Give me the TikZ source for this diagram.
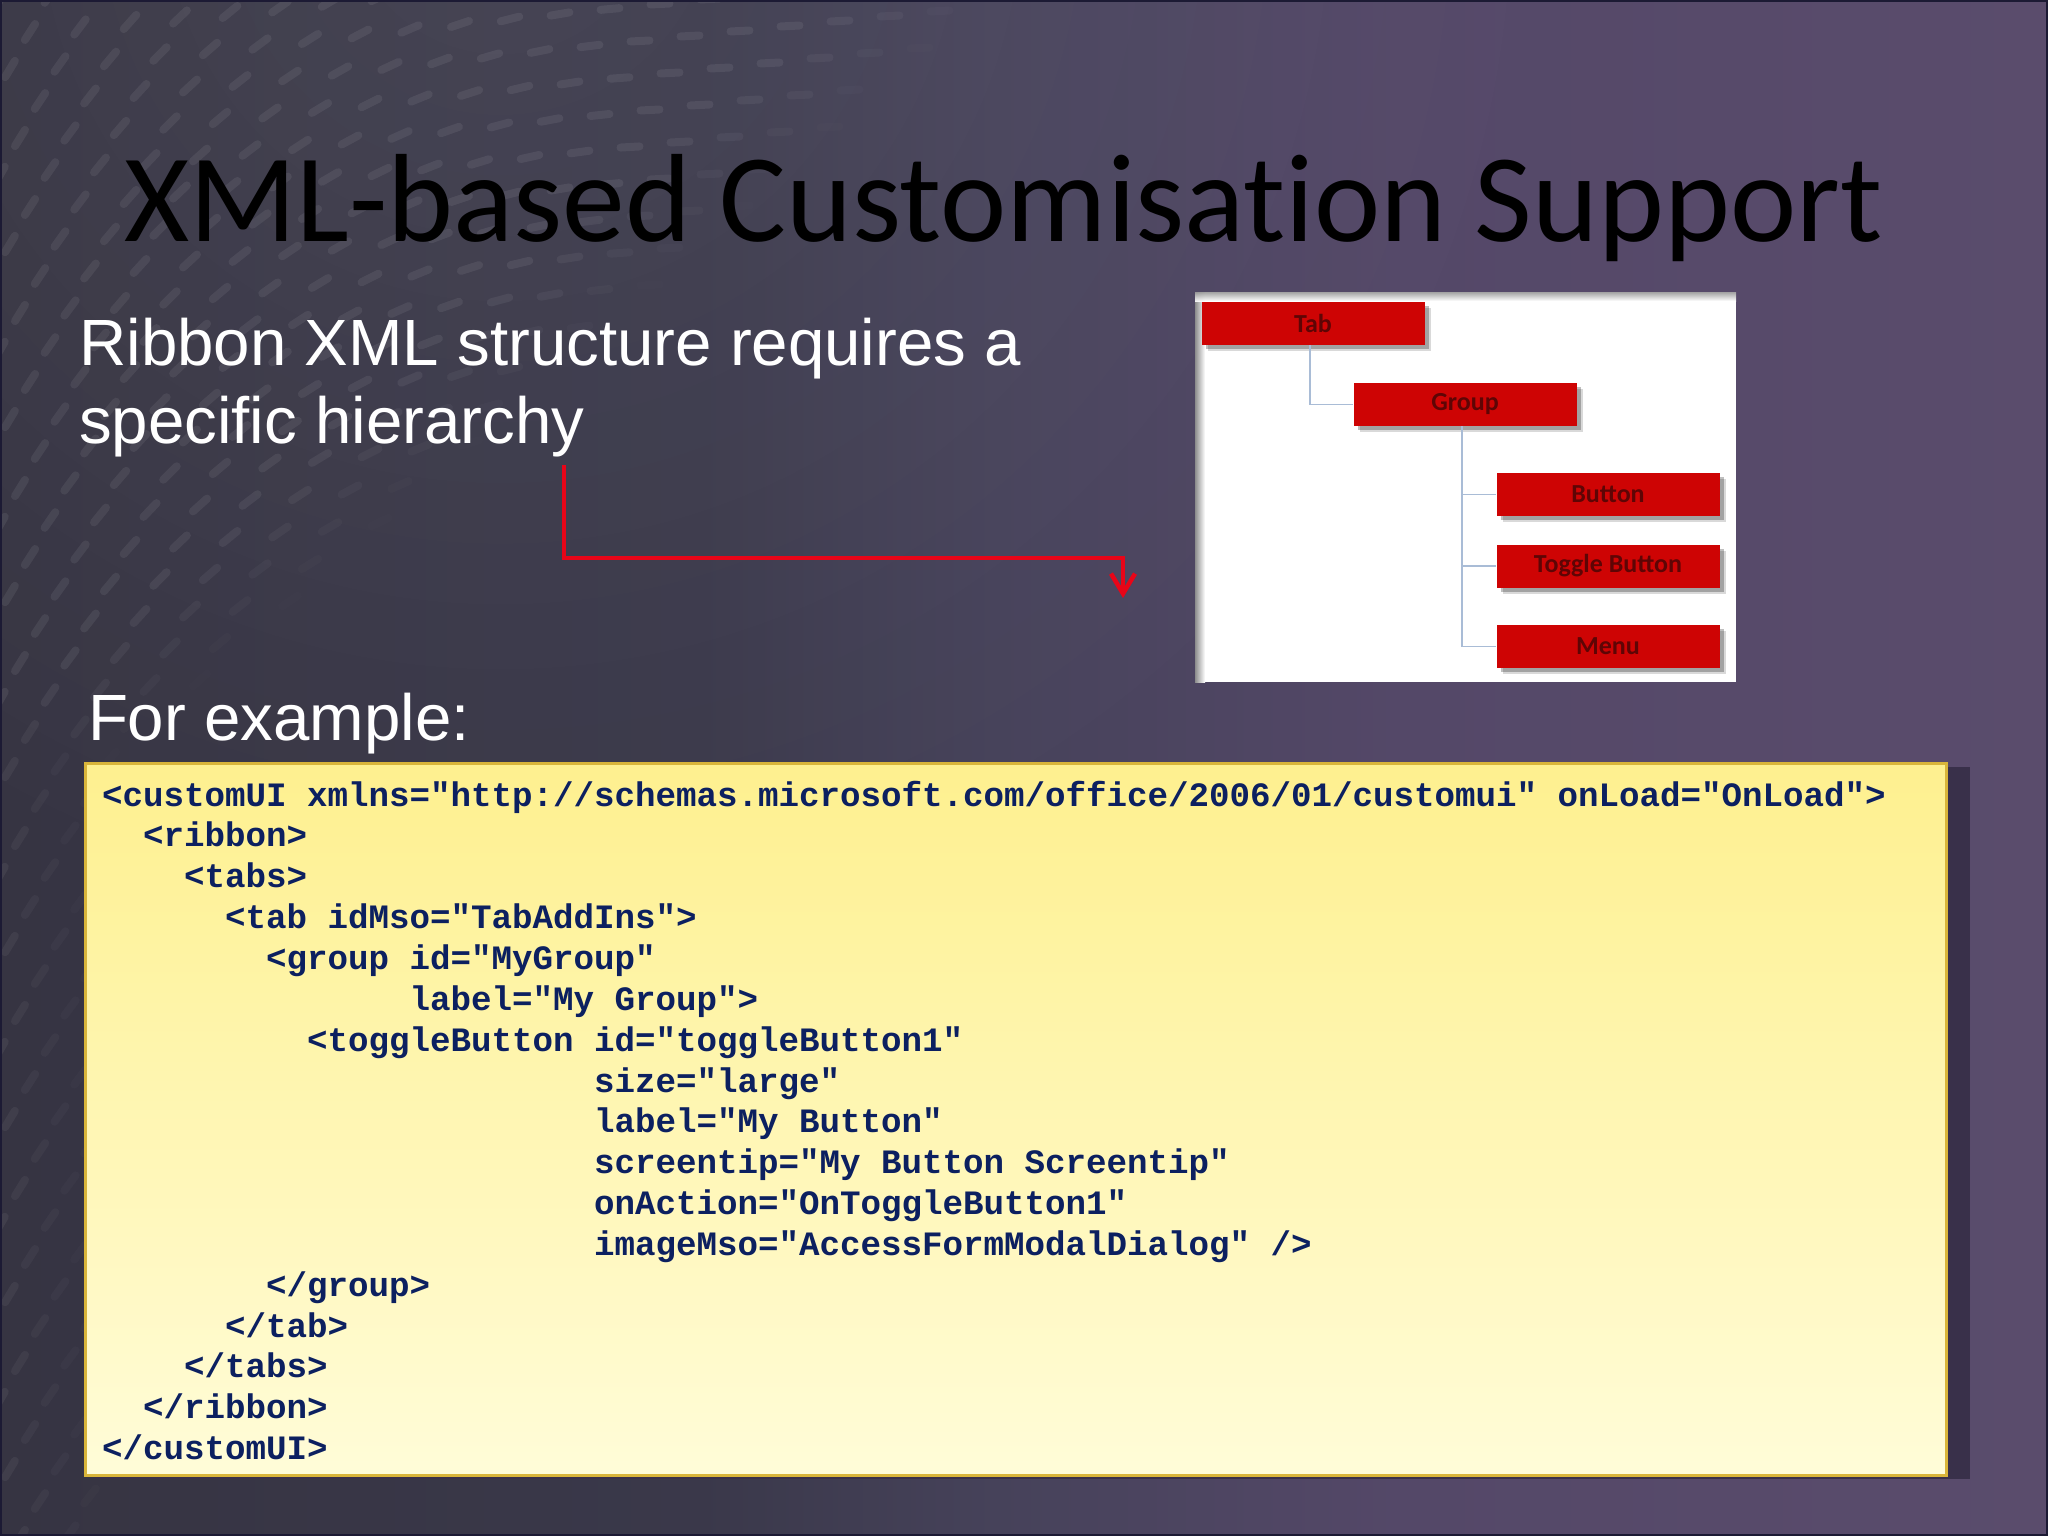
\documentclass[tikz,border=0pt]{standalone}
\usepackage{fontspec}
\usetikzlibrary{arrows.meta,shadows,fadings}
\setmainfont{Liberation Sans}
\newfontfamily\titlef[Ligatures=NoCommon]{Carlito}
\newfontfamily\treef{Carlito}
\newfontfamily\codef{Liberation Mono}
\newdimen\cw
\cw=20.5pt
\newcommand{\ind}[1]{\hspace*{#1\cw}}
\definecolor{codeink}{HTML}{0C2060}
\definecolor{boxtop}{HTML}{FEF08F}
\definecolor{boxbot}{HTML}{FFFCD8}
\definecolor{boxedge}{HTML}{D9B53A}
\definecolor{shadeback}{HTML}{39304A}
\definecolor{redline}{HTML}{E80518}
\definecolor{treered}{HTML}{CE0404}
\definecolor{treeink}{HTML}{5E0505}
\definecolor{treeline}{HTML}{A9BCD6}
\definecolor{frameline}{HTML}{1C1A34}
\pgfdeclarehorizontalshading{slidebg}{100bp}{
  rgb(0bp)=(.212,.204,.259);
  rgb(25bp)=(.212,.204,.259);
  rgb(42.1bp)=(.227,.22,.29);
  rgb(49.4bp)=(.275,.259,.353);
  rgb(59.2bp)=(.329,.282,.408);
  rgb(75bp)=(.353,.298,.424);
  rgb(100bp)=(.353,.298,.424)}
\tikzfading[name=softglow,inner color=transparent!0,outer color=transparent!100]
\tikzset{
  plain/.style={anchor=base west,inner sep=0pt,outer sep=0pt},
  body/.style={plain,text=white,font=\fontsize{65.4}{78}\selectfont},
  treebox/.style={draw=none,fill=treered,minimum width=223pt,minimum height=43pt,inner sep=0pt,
    text=treeink,font=\treef\bfseries\fontsize{26}{30}\selectfont,
    drop shadow={shadow xshift=6pt,shadow yshift=-6pt,fill=black,opacity=.15},
    drop shadow={shadow xshift=4pt,shadow yshift=-4pt,fill=black,opacity=.25}},
  treelink/.style={draw=treeline,line width=1.6pt},
  speck/.style={white,line cap=round,line width=8pt}
}
\begin{document}
\begin{tikzpicture}[x=1pt,y=-1pt]
\useasboundingbox (0,0) rectangle (2048,1536);
% background
\shade[shading=slidebg] (0,0) rectangle (2048,1536);
\begin{scope}
\clip (0,0) rectangle (2048,1536);
\fill[white,opacity=.07,path fading=softglow] (500,-100) circle[radius=1100];
\foreach \i in {-29,...,22}{
  \foreach \j in {0,...,48}{
    \pgfmathsetmacro{\px}{30*\j+50*\i}
    \pgfmathsetmacro{\py}{32*\j-5*\i}
    \pgfmathsetmacro{\lim}{max(130,1000-1.15*\py)}
    \pgfmathsetmacro{\op}{0.07*min(1,(\lim-\px)/170)}
    \ifdim\op pt>0.004pt
      \ifdim\px pt>-20pt
        \ifdim\py pt>-20pt
          \pgfmathsetmacro{\ang}{max(3,60-0.09*\px)}
          \pgfmathsetmacro{\dx}{9.5*cos(\ang)}
          \pgfmathsetmacro{\dy}{9.5*sin(\ang)}
          \draw[speck,opacity=\op] (\px-\dx,\py+\dy) -- (\px+\dx,\py-\dy);
        \fi
      \fi
    \fi
  }
}
\end{scope}
\draw[frameline,line width=4pt] (0,0) rectangle (2048,1536);
% title and body
\node[plain,text=black,font=\titlef\fontsize{125.5}{140}\selectfont] (title) at (124,241) {XML-based Customisation Support};
\node[body] (line1) at (79.5,365) {Ribbon XML structure requires a};
\node[body] (line2) at (79,443.5) {specific hierarchy};
\node[body] (forex) at (88,740) {For example:};
% inset picture
\fill[white] (1195,292) rectangle (1736,682);
\shade[left color=black!45,right color=white] (1195,292) rectangle (1205,682);
\shade[top color=black!40,bottom color=white,opacity=.9] (1195,292) rectangle (1736,301);
\node[treebox] (tab) at (1313,323.5) {Tab};
\node[treebox] (group) at (1465,404.5) {Group};
\node[treebox] (button) at (1608,494.5) {Button};
\node[treebox] (toggle) at (1608,566) {Toggle Button};
\node[treebox] (menu) at (1608,646.5) {Menu};
\draw[treelink] ([xshift=-3pt]tab.south) |- (group.west);
\draw[treelink] ([xshift=-3pt]group.south) |- (button.west);
\draw[treelink] ([xshift=-3pt]group.south) |- (toggle.west);
\draw[treelink] ([xshift=-3pt]group.south) |- (menu.west);
% red arrow
\coordinate (arrowstart) at (564,465);
\coordinate (arrowend) at (1123,598);
\draw[redline,line width=4.5pt,-{Straight Barb[length=20pt,width=24pt]}] (arrowstart) -- (564,558) -- (1123,558) -- (arrowend);
% code box
\fill[shadeback] (95,767) rectangle (1970,1479);
\node[draw=boxedge,line width=3pt,top color=boxtop,bottom color=boxbot,minimum width=1861pt,minimum height=712pt,inner sep=0pt] (codebox) at (1016,1119.5) {};
\node[anchor=north west,inner sep=0pt,outer sep=0pt,align=left,text=codeink,font=\codef\bfseries\fontsize{34.17}{40.85}\selectfont] (code) at (102,780.8) {%
<customUI xmlns="http://schemas.microsoft.com/office/2006/01/customui" onLoad="OnLoad">\\
\ind{2}<ribbon>\\
\ind{4}<tabs>\\
\ind{6}<tab idMso="TabAddIns">\\
\ind{8}<group id="MyGroup"\\
\ind{15}label="My Group">\\
\ind{10}<toggleButton id="toggleButton1"\\
\ind{24}size="large"\\
\ind{24}label="My Button"\\
\ind{24}screentip="My Button Screentip"\\
\ind{24}onAction="OnToggleButton1"\\
\ind{24}imageMso="AccessFormModalDialog" />\\
\ind{8}</group>\\
\ind{6}</tab>\\
\ind{4}</tabs>\\
\ind{2}</ribbon>\\
</customUI>};
\end{tikzpicture}
\end{document}
